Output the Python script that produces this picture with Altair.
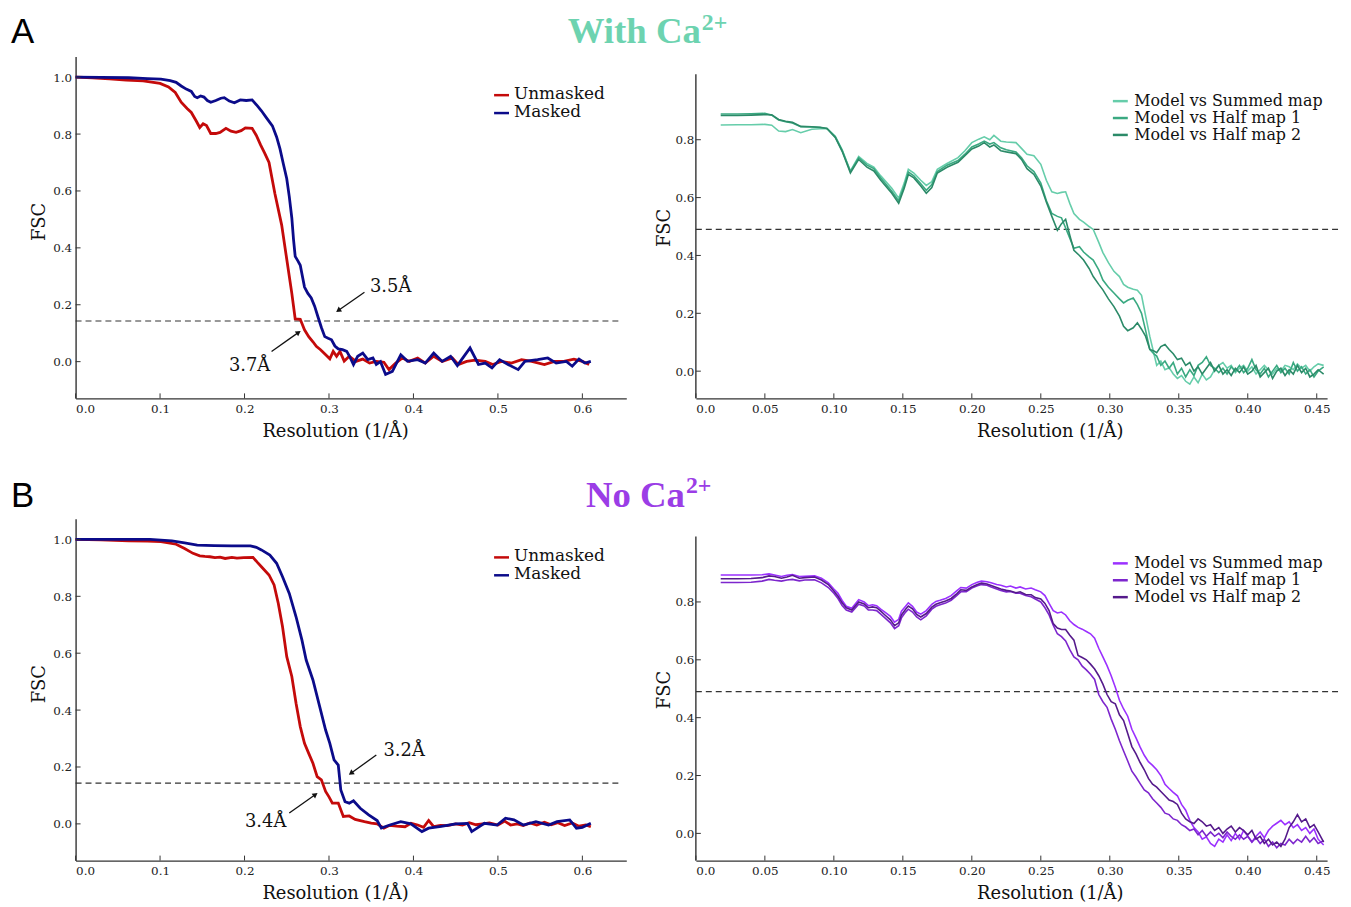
import math
import altair as alt
import pandas as pd

# ---------------- data ----------------
# Panel A left: half-map FSC, with Ca2+
A_UNMASKED = [
    (0.0, 1.0), (0.02, 0.998), (0.04, 0.994), (0.06, 0.99), (0.08, 0.987), (0.1, 0.978),
    (0.11, 0.966), (0.118, 0.946), (0.125, 0.912), (0.132, 0.89), (0.137, 0.876), (0.143, 0.845),
    (0.147, 0.823), (0.151, 0.836), (0.155, 0.83), (0.16, 0.802), (0.166, 0.802), (0.171, 0.806),
    (0.178, 0.82), (0.184, 0.81), (0.19, 0.806), (0.196, 0.812), (0.201, 0.822), (0.209, 0.82),
    (0.214, 0.795), (0.219, 0.762), (0.224, 0.732), (0.229, 0.70), (0.236, 0.59), (0.244, 0.48),
    (0.25, 0.36), (0.256, 0.24), (0.26, 0.15), (0.266, 0.149), (0.271, 0.112), (0.276, 0.088),
    (0.281, 0.07), (0.285, 0.054), (0.29, 0.042), (0.297, 0.022), (0.301, 0.01), (0.305, 0.036),
    (0.309, 0.019), (0.313, 0.036), (0.318, 0.002), (0.324, 0.019), (0.332, 0.001), (0.34, 0.009),
    (0.348, -0.005), (0.356, 0.001), (0.365, -0.002), (0.371, -0.028), (0.379, -0.005),
    (0.387, 0.013), (0.395, 0.001), (0.405, 0.013), (0.414, -0.005), (0.424, 0.019),
    (0.434, 0.001), (0.446, 0.013), (0.453, -0.01), (0.463, 0.001), (0.473, 0.005),
    (0.485, 0.001), (0.494, -0.01), (0.504, 0.001), (0.516, -0.005), (0.528, 0.007),
    (0.54, 0.001), (0.555, -0.01), (0.567, 0.001), (0.578, 0.001), (0.59, 0.009), (0.6, 0.001),
    (0.608, -0.01),
]
A_MASKED = [
    (0.0, 1.0), (0.03, 0.999), (0.063, 0.998), (0.085, 0.995), (0.101, 0.993), (0.112, 0.988),
    (0.119, 0.982), (0.125, 0.969), (0.131, 0.958), (0.137, 0.95), (0.141, 0.932), (0.144, 0.928),
    (0.148, 0.934), (0.152, 0.93), (0.156, 0.918), (0.16, 0.912), (0.166, 0.918), (0.172, 0.926),
    (0.176, 0.928), (0.182, 0.916), (0.188, 0.91), (0.195, 0.92), (0.202, 0.918), (0.209, 0.92),
    (0.215, 0.9), (0.22, 0.882), (0.226, 0.857), (0.233, 0.829), (0.238, 0.79), (0.242, 0.748),
    (0.246, 0.695), (0.25, 0.643), (0.253, 0.58), (0.256, 0.505), (0.258, 0.43), (0.26, 0.37),
    (0.263, 0.355), (0.266, 0.339), (0.271, 0.262), (0.275, 0.24), (0.279, 0.224), (0.283, 0.195),
    (0.287, 0.157), (0.291, 0.12), (0.295, 0.088), (0.299, 0.082), (0.303, 0.077), (0.307, 0.055),
    (0.311, 0.045), (0.316, 0.042), (0.321, 0.036), (0.325, 0.015), (0.329, -0.01), (0.334, 0.019),
    (0.34, 0.03), (0.346, 0.007), (0.352, 0.013), (0.356, -0.01), (0.361, 0.0), (0.367, -0.045),
    (0.375, -0.034), (0.385, 0.024), (0.393, 0.001), (0.405, 0.007), (0.414, -0.005),
    (0.424, 0.03), (0.434, 0.001), (0.444, 0.019), (0.452, -0.014), (0.457, 0.007),
    (0.467, 0.048), (0.477, -0.01), (0.485, -0.005), (0.493, -0.022), (0.502, 0.007),
    (0.512, -0.01), (0.524, -0.028), (0.532, 0.001), (0.547, 0.007), (0.559, 0.013),
    (0.569, -0.005), (0.581, 0.001), (0.588, -0.016), (0.596, 0.009), (0.603, -0.005),
    (0.61, 0.001),
]
# Panel B left: half-map FSC, no Ca2+
B_UNMASKED = [
    (0.0, 1.0), (0.03, 0.998), (0.063, 0.995), (0.085, 0.994), (0.101, 0.992), (0.11, 0.988),
    (0.119, 0.983), (0.129, 0.968), (0.139, 0.951), (0.147, 0.942), (0.153, 0.94), (0.159, 0.939),
    (0.165, 0.936), (0.171, 0.938), (0.177, 0.933), (0.185, 0.937), (0.191, 0.934), (0.199, 0.936),
    (0.21, 0.937), (0.215, 0.92), (0.22, 0.904), (0.229, 0.875), (0.235, 0.84), (0.24, 0.775),
    (0.245, 0.693), (0.25, 0.588), (0.256, 0.518), (0.261, 0.424), (0.266, 0.342), (0.271, 0.283),
    (0.276, 0.248), (0.281, 0.213), (0.286, 0.166), (0.291, 0.155), (0.296, 0.114), (0.3, 0.095),
    (0.304, 0.073), (0.311, 0.073), (0.317, 0.026), (0.324, 0.028), (0.331, 0.016), (0.342, 0.008),
    (0.35, 0.003), (0.357, 0.0), (0.365, -0.015), (0.372, -0.005), (0.38, -0.008), (0.39, -0.01),
    (0.397, 0.002), (0.405, -0.004), (0.412, -0.012), (0.418, 0.012), (0.424, -0.01),
    (0.432, -0.005), (0.44, -0.006), (0.45, 0.0), (0.458, -0.004), (0.466, 0.004),
    (0.474, -0.003), (0.482, 0.0), (0.49, 0.003), (0.5, -0.004), (0.508, 0.01), (0.515, -0.004),
    (0.523, 0.0), (0.53, -0.006), (0.538, 0.003), (0.546, -0.004), (0.555, 0.006),
    (0.563, -0.003), (0.571, 0.004), (0.579, -0.006), (0.588, 0.003), (0.596, -0.008),
    (0.604, -0.004), (0.61, -0.01),
]
B_MASKED = [
    (0.0, 1.0), (0.05, 1.0), (0.088, 1.0), (0.114, 0.995), (0.129, 0.988), (0.144, 0.98),
    (0.164, 0.978), (0.185, 0.977), (0.207, 0.977), (0.214, 0.972), (0.22, 0.963), (0.23, 0.945),
    (0.238, 0.916), (0.245, 0.869), (0.253, 0.81), (0.261, 0.728), (0.268, 0.646), (0.273, 0.576),
    (0.281, 0.506), (0.289, 0.412), (0.296, 0.33), (0.301, 0.283), (0.306, 0.225), (0.311, 0.207),
    (0.314, 0.119), (0.319, 0.078), (0.324, 0.073), (0.329, 0.081), (0.337, 0.055), (0.347, 0.032),
    (0.357, 0.012), (0.362, -0.015), (0.372, -0.004), (0.385, 0.008), (0.397, 0.0),
    (0.41, -0.027), (0.418, -0.015), (0.433, -0.009), (0.45, 0.0), (0.464, 0.002),
    (0.469, -0.027), (0.484, 0.002), (0.499, -0.004), (0.509, 0.02), (0.519, 0.014),
    (0.53, -0.004), (0.545, 0.008), (0.56, -0.004), (0.57, 0.008), (0.585, 0.014),
    (0.593, -0.015), (0.6, -0.012), (0.61, 0.002),
]

# Panel A right: model-vs-map FSC, with Ca2+
A_SUMMED = [
    (0.018, 0.851), (0.03, 0.852), (0.04, 0.852), (0.05, 0.853), (0.055, 0.85), (0.06, 0.83),
    (0.065, 0.828), (0.07, 0.835), (0.076, 0.824), (0.084, 0.836), (0.09, 0.838), (0.095, 0.839),
    (0.101, 0.812), (0.106, 0.765), (0.112, 0.692), (0.118, 0.742), (0.124, 0.718), (0.129, 0.705),
    (0.134, 0.675), (0.142, 0.632), (0.147, 0.598), (0.151, 0.65), (0.154, 0.698), (0.158, 0.685),
    (0.163, 0.66), (0.167, 0.642), (0.171, 0.655), (0.175, 0.698), (0.182, 0.718), (0.19, 0.738),
    (0.195, 0.762), (0.2, 0.79), (0.205, 0.802), (0.209, 0.81), (0.213, 0.8), (0.216, 0.815),
    (0.221, 0.795), (0.225, 0.792), (0.232, 0.79), (0.236, 0.77), (0.24, 0.75), (0.245, 0.745),
    (0.25, 0.715), (0.254, 0.66), (0.258, 0.62), (0.262, 0.614), (0.265, 0.618), (0.268, 0.62),
    (0.271, 0.58), (0.274, 0.545), (0.278, 0.525), (0.281, 0.515), (0.285, 0.5), (0.288, 0.49),
    (0.292, 0.445), (0.295, 0.41), (0.299, 0.375), (0.303, 0.345), (0.307, 0.327), (0.31, 0.3),
    (0.313, 0.29), (0.317, 0.283), (0.32, 0.28), (0.323, 0.262), (0.326, 0.19), (0.329, 0.12),
    (0.332, 0.06), (0.334, 0.02), (0.337, 0.035), (0.34, 0.005), (0.343, 0.012), (0.346, -0.01),
    (0.349, -0.025), (0.352, -0.015), (0.355, -0.035), (0.358, -0.045), (0.361, -0.02),
    (0.364, -0.04), (0.367, -0.01), (0.37, -0.03), (0.373, -0.02), (0.376, 0.005), (0.379, 0.02),
    (0.382, 0.03), (0.385, 0.01), (0.388, 0.02), (0.391, -0.005), (0.394, 0.01), (0.397, 0.02),
    (0.4, 0.0), (0.403, 0.015), (0.406, -0.01), (0.409, 0.005), (0.412, 0.02), (0.415, 0.005),
    (0.418, -0.01), (0.421, 0.01), (0.424, 0.0), (0.427, 0.02), (0.43, 0.015), (0.433, 0.005),
    (0.436, 0.025), (0.439, 0.01), (0.442, 0.02), (0.445, 0.0), (0.448, 0.015), (0.451, 0.025),
    (0.455, 0.02),
]
A_HALF1 = [
    (0.018, 0.889), (0.03, 0.889), (0.04, 0.89), (0.05, 0.891), (0.055, 0.885), (0.06, 0.868),
    (0.065, 0.862), (0.07, 0.858), (0.076, 0.845), (0.084, 0.844), (0.09, 0.842), (0.095, 0.839),
    (0.101, 0.81), (0.106, 0.763), (0.112, 0.69), (0.118, 0.738), (0.124, 0.712), (0.129, 0.7),
    (0.134, 0.668), (0.142, 0.622), (0.147, 0.588), (0.151, 0.64), (0.154, 0.688), (0.158, 0.675),
    (0.163, 0.648), (0.167, 0.625), (0.171, 0.645), (0.175, 0.69), (0.182, 0.712), (0.19, 0.728),
    (0.195, 0.75), (0.2, 0.775), (0.205, 0.785), (0.209, 0.795), (0.213, 0.785), (0.216, 0.79),
    (0.221, 0.772), (0.225, 0.765), (0.232, 0.758), (0.236, 0.738), (0.24, 0.71), (0.245, 0.69),
    (0.25, 0.65), (0.254, 0.59), (0.258, 0.545), (0.262, 0.535), (0.265, 0.53), (0.268, 0.495),
    (0.271, 0.46), (0.274, 0.425), (0.278, 0.43), (0.281, 0.412), (0.285, 0.395), (0.288, 0.384),
    (0.292, 0.35), (0.295, 0.315), (0.299, 0.29), (0.303, 0.27), (0.307, 0.25), (0.31, 0.236),
    (0.313, 0.245), (0.317, 0.253), (0.32, 0.23), (0.323, 0.2), (0.326, 0.14), (0.329, 0.075),
    (0.332, 0.06), (0.334, 0.052), (0.337, 0.02), (0.34, 0.035), (0.343, 0.01), (0.346, 0.03),
    (0.349, -0.01), (0.352, 0.01), (0.355, -0.02), (0.358, 0.005), (0.361, -0.015),
    (0.364, 0.02), (0.367, 0.03), (0.37, 0.05), (0.373, 0.02), (0.376, 0.01), (0.379, -0.005),
    (0.382, 0.01), (0.385, -0.01), (0.388, 0.015), (0.391, 0.0), (0.394, 0.02), (0.397, -0.005),
    (0.4, 0.01), (0.403, 0.04), (0.406, 0.005), (0.409, -0.01), (0.412, 0.01), (0.415, -0.02),
    (0.418, 0.0), (0.421, 0.02), (0.424, -0.005), (0.427, 0.01), (0.43, -0.01), (0.433, 0.03),
    (0.436, 0.0), (0.439, 0.015), (0.442, -0.01), (0.445, 0.005), (0.448, -0.02), (0.451, 0.0),
    (0.455, 0.015),
]
A_HALF2 = [
    (0.018, 0.884), (0.03, 0.884), (0.04, 0.885), (0.05, 0.887), (0.055, 0.886), (0.06, 0.87),
    (0.065, 0.864), (0.07, 0.86), (0.076, 0.846), (0.084, 0.845), (0.09, 0.843), (0.095, 0.839),
    (0.101, 0.808), (0.106, 0.76), (0.112, 0.685), (0.118, 0.732), (0.124, 0.705), (0.129, 0.692),
    (0.134, 0.66), (0.142, 0.615), (0.147, 0.58), (0.151, 0.632), (0.154, 0.68), (0.158, 0.668),
    (0.163, 0.64), (0.167, 0.615), (0.171, 0.635), (0.175, 0.685), (0.182, 0.705), (0.19, 0.722),
    (0.195, 0.745), (0.2, 0.768), (0.205, 0.778), (0.209, 0.79), (0.213, 0.775), (0.216, 0.782),
    (0.221, 0.762), (0.225, 0.758), (0.232, 0.752), (0.236, 0.732), (0.24, 0.7), (0.245, 0.68),
    (0.25, 0.64), (0.254, 0.585), (0.258, 0.535), (0.262, 0.487), (0.265, 0.51), (0.268, 0.525),
    (0.271, 0.47), (0.274, 0.418), (0.278, 0.4), (0.281, 0.384), (0.285, 0.355), (0.288, 0.327),
    (0.292, 0.3), (0.295, 0.281), (0.299, 0.25), (0.303, 0.223), (0.307, 0.19), (0.31, 0.155),
    (0.313, 0.14), (0.317, 0.15), (0.32, 0.167), (0.323, 0.145), (0.326, 0.12), (0.329, 0.075),
    (0.332, 0.07), (0.334, 0.064), (0.337, 0.085), (0.34, 0.092), (0.343, 0.075), (0.346, 0.06),
    (0.349, 0.04), (0.352, 0.045), (0.355, 0.02), (0.358, 0.03), (0.361, 0.0), (0.364, 0.015),
    (0.367, -0.01), (0.37, 0.01), (0.373, 0.03), (0.376, 0.0), (0.379, 0.02), (0.382, -0.01),
    (0.385, 0.005), (0.388, -0.015), (0.391, 0.01), (0.394, -0.005), (0.397, 0.015),
    (0.4, -0.01), (0.403, 0.0), (0.406, 0.02), (0.409, -0.02), (0.412, -0.005), (0.415, 0.01),
    (0.418, -0.025), (0.421, 0.0), (0.424, 0.01), (0.427, -0.015), (0.43, 0.005),
    (0.433, -0.01), (0.436, 0.02), (0.439, -0.005), (0.442, 0.01), (0.445, -0.02),
    (0.448, -0.01), (0.451, 0.005), (0.455, -0.01),
]

# Panel B right: model-vs-map FSC, no Ca2+
B_SUMMED = [
    (0.018, 0.893), (0.03, 0.893), (0.04, 0.893), (0.048, 0.894), (0.053, 0.897), (0.057, 0.893),
    (0.062, 0.888), (0.066, 0.892), (0.07, 0.895), (0.075, 0.888), (0.079, 0.889), (0.086, 0.89),
    (0.091, 0.882), (0.096, 0.866), (0.1, 0.845), (0.103, 0.83), (0.106, 0.805), (0.109, 0.785),
    (0.113, 0.778), (0.118, 0.808), (0.122, 0.8), (0.125, 0.787), (0.128, 0.79), (0.131, 0.787),
    (0.134, 0.775), (0.137, 0.765), (0.141, 0.75), (0.144, 0.73), (0.147, 0.74), (0.149, 0.768),
    (0.152, 0.785), (0.154, 0.797), (0.157, 0.785), (0.16, 0.765), (0.163, 0.758), (0.167, 0.77),
    (0.171, 0.792), (0.174, 0.802), (0.177, 0.806), (0.181, 0.812), (0.185, 0.822),
    (0.189, 0.838), (0.192, 0.85), (0.196, 0.848), (0.2, 0.86), (0.204, 0.868), (0.207, 0.872),
    (0.211, 0.87), (0.214, 0.866), (0.218, 0.86), (0.221, 0.858), (0.225, 0.852), (0.228, 0.855),
    (0.232, 0.848), (0.235, 0.852), (0.239, 0.845), (0.243, 0.848), (0.246, 0.842),
    (0.25, 0.835), (0.253, 0.822), (0.256, 0.795), (0.259, 0.77), (0.262, 0.762), (0.265, 0.765),
    (0.268, 0.755), (0.271, 0.735), (0.274, 0.722), (0.277, 0.712), (0.28, 0.706), (0.283, 0.698),
    (0.286, 0.69), (0.289, 0.675), (0.292, 0.64), (0.295, 0.61), (0.298, 0.58), (0.301, 0.545),
    (0.304, 0.505), (0.307, 0.46), (0.31, 0.43), (0.313, 0.405), (0.316, 0.36), (0.319, 0.33),
    (0.322, 0.298), (0.325, 0.27), (0.328, 0.248), (0.331, 0.235), (0.334, 0.22), (0.337, 0.2),
    (0.34, 0.17), (0.343, 0.155), (0.346, 0.142), (0.349, 0.13), (0.352, 0.1), (0.355, 0.08),
    (0.358, 0.045), (0.361, 0.02), (0.364, 0.005), (0.367, -0.02), (0.37, -0.012),
    (0.373, -0.035), (0.376, -0.045), (0.379, -0.02), (0.382, -0.03), (0.385, -0.005),
    (0.388, -0.025), (0.391, 0.0), (0.394, -0.02), (0.397, 0.01), (0.4, -0.01), (0.403, -0.03),
    (0.406, -0.01), (0.409, 0.005), (0.412, -0.015), (0.415, 0.01), (0.418, 0.025),
    (0.421, 0.035), (0.424, 0.045), (0.427, 0.03), (0.43, 0.04), (0.433, 0.02), (0.436, 0.03),
    (0.439, 0.01), (0.442, 0.02), (0.445, 0.0), (0.448, 0.015), (0.451, -0.02), (0.455, -0.04),
]
B_HALF1 = [
    (0.018, 0.867), (0.03, 0.867), (0.04, 0.868), (0.048, 0.872), (0.053, 0.878), (0.057, 0.875),
    (0.062, 0.872), (0.066, 0.876), (0.07, 0.878), (0.075, 0.873), (0.079, 0.876), (0.086, 0.877),
    (0.091, 0.866), (0.096, 0.85), (0.1, 0.83), (0.103, 0.812), (0.106, 0.788), (0.109, 0.772),
    (0.113, 0.765), (0.118, 0.792), (0.122, 0.786), (0.125, 0.772), (0.128, 0.772), (0.131, 0.77),
    (0.134, 0.758), (0.137, 0.745), (0.141, 0.728), (0.144, 0.708), (0.147, 0.718),
    (0.149, 0.745), (0.152, 0.765), (0.154, 0.775), (0.157, 0.765), (0.16, 0.748), (0.163, 0.738),
    (0.167, 0.752), (0.171, 0.775), (0.174, 0.785), (0.177, 0.79), (0.181, 0.796), (0.185, 0.806),
    (0.189, 0.822), (0.192, 0.835), (0.196, 0.835), (0.2, 0.848), (0.204, 0.856), (0.207, 0.86),
    (0.211, 0.858), (0.214, 0.852), (0.218, 0.845), (0.221, 0.84), (0.225, 0.835), (0.228, 0.836),
    (0.232, 0.83), (0.235, 0.83), (0.239, 0.822), (0.243, 0.818), (0.246, 0.81), (0.25, 0.8),
    (0.253, 0.78), (0.256, 0.755), (0.259, 0.72), (0.262, 0.69), (0.265, 0.68), (0.268, 0.665),
    (0.271, 0.635), (0.274, 0.61), (0.277, 0.6), (0.28, 0.578), (0.283, 0.565), (0.286, 0.55),
    (0.289, 0.532), (0.292, 0.48), (0.295, 0.455), (0.298, 0.436), (0.301, 0.395), (0.304, 0.36),
    (0.307, 0.32), (0.31, 0.285), (0.313, 0.25), (0.316, 0.215), (0.319, 0.195), (0.322, 0.172),
    (0.325, 0.15), (0.328, 0.14), (0.331, 0.12), (0.334, 0.105), (0.337, 0.09), (0.34, 0.07),
    (0.343, 0.065), (0.346, 0.05), (0.349, 0.045), (0.352, 0.03), (0.355, 0.022), (0.358, 0.01),
    (0.361, 0.015), (0.364, -0.005), (0.367, 0.01), (0.37, -0.01), (0.373, 0.005), (0.376, -0.01),
    (0.379, 0.0), (0.382, -0.015), (0.385, 0.005), (0.388, -0.01), (0.391, -0.02),
    (0.394, -0.005), (0.397, -0.02), (0.4, -0.01), (0.403, -0.03), (0.406, -0.015),
    (0.409, -0.035), (0.412, -0.02), (0.415, -0.045), (0.418, -0.03), (0.421, -0.05),
    (0.424, -0.035), (0.427, -0.04), (0.43, -0.02), (0.433, -0.035), (0.436, -0.02),
    (0.439, -0.03), (0.442, -0.01), (0.445, -0.03), (0.448, -0.015), (0.451, -0.035),
    (0.455, -0.025),
]
B_HALF2 = [
    (0.018, 0.88), (0.03, 0.88), (0.04, 0.881), (0.048, 0.884), (0.053, 0.89), (0.057, 0.888),
    (0.062, 0.882), (0.066, 0.886), (0.07, 0.892), (0.075, 0.882), (0.079, 0.884), (0.086, 0.886),
    (0.091, 0.876), (0.096, 0.86), (0.1, 0.838), (0.103, 0.82), (0.106, 0.797), (0.109, 0.78),
    (0.113, 0.772), (0.118, 0.8), (0.122, 0.793), (0.125, 0.78), (0.128, 0.783), (0.131, 0.78),
    (0.134, 0.768), (0.137, 0.755), (0.141, 0.738), (0.144, 0.718), (0.147, 0.728),
    (0.149, 0.755), (0.152, 0.775), (0.154, 0.786), (0.157, 0.776), (0.16, 0.757), (0.163, 0.748),
    (0.167, 0.76), (0.171, 0.782), (0.174, 0.792), (0.177, 0.797), (0.181, 0.803), (0.185, 0.812),
    (0.189, 0.828), (0.192, 0.842), (0.196, 0.84), (0.2, 0.852), (0.204, 0.86), (0.207, 0.865),
    (0.211, 0.862), (0.214, 0.857), (0.218, 0.85), (0.221, 0.845), (0.225, 0.84), (0.228, 0.838),
    (0.232, 0.832), (0.235, 0.835), (0.239, 0.826), (0.243, 0.825), (0.246, 0.815), (0.25, 0.81),
    (0.253, 0.795), (0.256, 0.77), (0.259, 0.725), (0.262, 0.71), (0.265, 0.705), (0.268, 0.705),
    (0.271, 0.685), (0.274, 0.668), (0.277, 0.615), (0.28, 0.608), (0.283, 0.6), (0.286, 0.585),
    (0.289, 0.568), (0.292, 0.545), (0.295, 0.516), (0.298, 0.48), (0.301, 0.455), (0.304, 0.448),
    (0.307, 0.41), (0.31, 0.39), (0.313, 0.345), (0.316, 0.3), (0.319, 0.275), (0.322, 0.245),
    (0.325, 0.22), (0.328, 0.19), (0.331, 0.17), (0.334, 0.16), (0.337, 0.145), (0.34, 0.13),
    (0.343, 0.115), (0.346, 0.11), (0.349, 0.1), (0.352, 0.07), (0.355, 0.05), (0.358, 0.04),
    (0.361, 0.034), (0.364, 0.05), (0.367, 0.04), (0.37, 0.025), (0.373, 0.03), (0.376, 0.01),
    (0.379, 0.02), (0.382, 0.0), (0.385, 0.015), (0.388, 0.025), (0.391, 0.005), (0.394, 0.02),
    (0.397, 0.01), (0.4, -0.005), (0.403, 0.01), (0.406, -0.02), (0.409, -0.01), (0.412, -0.035),
    (0.415, -0.02), (0.418, -0.04), (0.421, -0.03), (0.424, -0.045), (0.427, -0.02),
    (0.43, 0.02), (0.433, 0.04), (0.436, 0.065), (0.439, 0.04), (0.442, 0.05), (0.445, 0.02),
    (0.448, 0.03), (0.451, 0.005), (0.455, -0.03),
]

LEFT_SERIES = ["Unmasked", "Masked"]
RIGHT_SERIES = ["Model vs Summed map", "Model vs Half map 1", "Model vs Half map 2"]
LEFT_XTICKS = [0.0, 0.1, 0.2, 0.3, 0.4, 0.5, 0.6]
RIGHT_XTICKS = [0.0, 0.05, 0.1, 0.15, 0.2, 0.25, 0.3, 0.35, 0.4, 0.45]
LEFT_YTICKS = [0.0, 0.2, 0.4, 0.6, 0.8, 1.0]
RIGHT_YTICKS = [0.0, 0.2, 0.4, 0.6, 0.8]
LEFT_CUTOFF = 0.143
RIGHT_CUTOFF = 0.49
LEFT_CUTOFF_SPAN = [0.0, 0.645]
RIGHT_CUTOFF_SPAN = [0.0, 0.467]
RIGHT_YAXIS_SPAN = [-0.094, 1.026]

# resolution annotations: label, text position, arrow start, arrow end
A_NOTE_LABELS = ["3.5Å", "3.7Å"]
A_NOTE_TEXT = [(0.373, 0.264), (0.206, -0.014)]
A_NOTE_FROM = [(0.342, 0.244), (0.232, 0.036)]
A_NOTE_TO = [(0.311, 0.18), (0.264, 0.103)]
B_NOTE_LABELS = ["3.2Å", "3.4Å"]
B_NOTE_TEXT = [(0.389, 0.256), (0.225, 0.006)]
B_NOTE_FROM = [(0.356, 0.242), (0.253, 0.038)]
B_NOTE_TO = [(0.326, 0.178), (0.284, 0.103)]

# ---------------- styling ----------------
RED = "#c40a0a"
BLUE = "#0b0b8a"
MINT = ["#66cdaa", "#3aa981", "#2b8a68"]
PURPLE = ["#9b30ff", "#7d26cd", "#551a8b"]
MINT_TITLE = "#6dd3b0"
PURPLE_TITLE = "#9b3de6"
SERIF = "DejaVu Serif"
AXIS_COLOR = "#333"
TICK_PX = 5

LW, LH = 554, 344
RW, RH = 635, 344
L_XDOM = [0.0, 0.652]
L_YDOM = [-0.129, 1.073]
R_XDOM = [0.0, 0.4575]
R_YDOM = [-0.094, 1.088]

AX = dict(labelFont=SERIF, labelFontSize=12, labelColor="#222", titleFont=SERIF,
          titleFontSize=18, titleFontWeight="normal", titleColor="#111",
          domainColor=AXIS_COLOR, domainWidth=1.4, ticks=False, grid=False)


def to_frame(pairs):
    rows = []
    for name, pts in pairs:
        for x, y in pts:
            rows.append({"series": name, "x": x, "y": y})
    return pd.DataFrame(rows)


def one(**kw):
    return alt.Chart(pd.DataFrame({"t": [0]})).mark_text(**kw)


def inner_ticks(X, Y, xticks, yticks, xdom, ydom, w, h):
    """Short tick marks drawn inside the axes (as in the original figure)."""
    dx = TICK_PX * (xdom[1] - xdom[0]) / w
    dy = TICK_PX * (ydom[1] - ydom[0]) / h
    xt = pd.DataFrame({"x": xticks, "y": [ydom[0]] * len(xticks), "y2": [ydom[0] + dy] * len(xticks)})
    yt = pd.DataFrame({"x": [xdom[0]] * len(yticks), "x2": [xdom[0] + dx] * len(yticks), "y": yticks})
    a = alt.Chart(xt).mark_rule(color=AXIS_COLOR, strokeWidth=1).encode(x=X, y=Y, y2="y2:Q")
    b = alt.Chart(yt).mark_rule(color=AXIS_COLOR, strokeWidth=1).encode(x=X, x2="x2:Q", y=Y)
    return [a, b]


def notes_layers(labels, text_pos, starts, ends, X, Y, xdom, ydom, w, h):
    t_df = pd.DataFrame({"label": labels, "x": [p[0] for p in text_pos], "y": [p[1] for p in text_pos]})
    r_df = pd.DataFrame({"x": [p[0] for p in starts], "y": [p[1] for p in starts],
                         "x2": [p[0] for p in ends], "y2": [p[1] for p in ends]})
    angles = []
    for (x0, y0), (x1, y1) in zip(starts, ends):
        dx = (x1 - x0) * w / (xdom[1] - xdom[0])
        dy = -(y1 - y0) * h / (ydom[1] - ydom[0])
        angles.append(math.degrees(math.atan2(dx, -dy)) % 360)
    h_df = pd.DataFrame({"x": [p[0] for p in ends], "y": [p[1] for p in ends], "angle": angles})
    txt = alt.Chart(t_df).mark_text(font=SERIF, fontSize=18, color="#111").encode(x=X, y=Y, text="label:N")
    rule = alt.Chart(r_df).mark_rule(color="#111", strokeWidth=1.3).encode(x=X, y=Y, x2="x2:Q", y2="y2:Q")
    head = alt.Chart(h_df).mark_point(shape="triangle-up", filled=True, size=35, color="#111",
                                      opacity=1).encode(x=X, y=Y, angle=alt.Angle("angle:Q", scale=None))
    return [txt, rule, head]


def left_panel(unm, msk, labels, tpos, starts, ends, letter, title, title_color, title_right, title_base):
    df = to_frame([("Unmasked", unm), ("Masked", msk)])
    X = alt.X("x:Q", scale=alt.Scale(domain=L_XDOM, nice=False, zero=False),
              axis=alt.Axis(title="Resolution (1/Å)", values=LEFT_XTICKS, format=".1f",
                            labelPadding=5, titlePadding=8, titleX=261, **AX))
    Y = alt.Y("y:Q", scale=alt.Scale(domain=L_YDOM, nice=False, zero=False),
              axis=alt.Axis(title="FSC", values=LEFT_YTICKS, format=".1f",
                            labelPadding=4, titlePadding=4, titleY=166, **AX))
    color = alt.Color("series:N", scale=alt.Scale(domain=LEFT_SERIES, range=[RED, BLUE]), legend=None)
    lines = alt.Chart(df).mark_line(strokeWidth=2.8).encode(x=X, y=Y, color=color)
    cut = alt.Chart(pd.DataFrame({"x": [LEFT_CUTOFF_SPAN[0]], "x2": [LEFT_CUTOFF_SPAN[1]], "y": [LEFT_CUTOFF]})).mark_rule(
        color="#333", strokeWidth=1.2, strokeDash=[6, 4]).encode(x=X, x2="x2:Q", y=Y)
    layers = [cut, lines] + inner_ticks(X, Y, LEFT_XTICKS, LEFT_YTICKS, L_XDOM, L_YDOM, LW, LH)
    layers += notes_layers(labels, tpos, starts, ends, X, Y, L_XDOM, L_YDOM, LW, LH)
    # legend (compact line spacing as in the original)
    for i, (name, col) in enumerate(zip(LEFT_SERIES, [RED, BLUE])):
        ypx = 38 + 18 * i
        layers.append(alt.Chart(pd.DataFrame({"t": [0]})).mark_rule(color=col, strokeWidth=2.5).encode(
            x=alt.value(421), x2=alt.value(436), y=alt.value(ypx + 1)))
        layers.append(one(text=name, font=SERIF, fontSize=17, align="left", baseline="middle",
                          color="#111").encode(x=alt.value(441), y=alt.value(ypx)))
    layers.append(one(text=letter, font="Liberation Sans", fontSize=35, align="left", baseline="alphabetic",
                      color="#000").encode(x=alt.value(-65), y=alt.value(title_base)))
    layers.append(one(text=title, font="Liberation Serif", fontSize=37, fontWeight="bold", align="right",
                      baseline="alphabetic", color=title_color).encode(x=alt.value(title_right),
                                                                       y=alt.value(title_base)))
    layers.append(one(text="2+", font="Liberation Serif", fontSize=24, fontWeight="bold", align="left",
                      baseline="alphabetic", color=title_color).encode(x=alt.value(title_right + 1),
                                                                       y=alt.value(title_base - 14)))
    return alt.layer(*layers).properties(width=LW, height=LH)


def right_panel(series, colors):
    df = to_frame(list(zip(RIGHT_SERIES, series)))
    X = alt.X("x:Q", scale=alt.Scale(domain=R_XDOM, nice=False, zero=False),
              axis=alt.Axis(title="Resolution (1/Å)", values=RIGHT_XTICKS, labelPadding=5,
                            titlePadding=8, titleX=356,
                            labelExpr="datum.value == 0 ? '0.0' : format(datum.value, '.2f')", **AX))
    Y = alt.Y("y:Q", scale=alt.Scale(domain=R_YDOM, nice=False, zero=False),
              axis=alt.Axis(title="FSC", values=RIGHT_YTICKS, format=".1f", labelPadding=2,
                            titlePadding=1, domain=False, **AX))
    color = alt.Color("series:N", scale=alt.Scale(domain=RIGHT_SERIES, range=colors),
                      legend=alt.Legend(orient="none", legendX=418, legendY=36, title=None,
                                        symbolType="stroke", symbolStrokeWidth=2.5, symbolSize=225,
                                        labelFont=SERIF, labelFontSize=16, labelColor="#111",
                                        labelLimit=400, rowPadding=0, labelOffset=5, padding=0))
    lines = alt.Chart(df).mark_line(strokeWidth=1.6).encode(x=X, y=Y, color=color)
    cut = alt.Chart(pd.DataFrame({"x": [RIGHT_CUTOFF_SPAN[0]], "x2": [RIGHT_CUTOFF_SPAN[1]], "y": [RIGHT_CUTOFF]})).mark_rule(
        color="#333", strokeWidth=1.2, strokeDash=[6, 4]).encode(x=X, x2="x2:Q", y=Y)
    yaxis = alt.Chart(pd.DataFrame({"x": [0.0], "y": [RIGHT_YAXIS_SPAN[0]], "y2": [RIGHT_YAXIS_SPAN[1]]})).mark_rule(
        color=AXIS_COLOR, strokeWidth=1.4).encode(x=X, y=Y, y2="y2:Q")
    ticks = inner_ticks(X, Y, RIGHT_XTICKS, RIGHT_YTICKS, R_XDOM, R_YDOM, RW, RH)
    return alt.layer(cut, lines, yaxis, *ticks).properties(width=RW, height=RH)


a_left = left_panel(A_UNMASKED, A_MASKED, A_NOTE_LABELS, A_NOTE_TEXT, A_NOTE_FROM, A_NOTE_TO,
                    "A", "With Ca", MINT_TITLE, 629, -13)
a_right = right_panel([A_SUMMED, A_HALF1, A_HALF2], MINT)
b_left = left_panel(B_UNMASKED, B_MASKED, B_NOTE_LABELS, B_NOTE_TEXT, B_NOTE_FROM, B_NOTE_TO,
                    "B", "No Ca", PURPLE_TITLE, 613, -12)
b_right = right_panel([B_SUMMED, B_HALF1, B_HALF2], PURPLE)

chart = alt.concat(a_left, a_right, b_left, b_right, columns=2,
                   spacing={"row": 121, "column": 70}, bounds="flush", align="each").resolve_scale(
    x="independent", y="independent", color="independent").properties(
    padding={"left": 3, "top": 0, "right": 2, "bottom": 2},
    background="white",
).configure_view(stroke=None)

chart.save("out.html", embed_options={"renderer": "svg", "actions": False})
